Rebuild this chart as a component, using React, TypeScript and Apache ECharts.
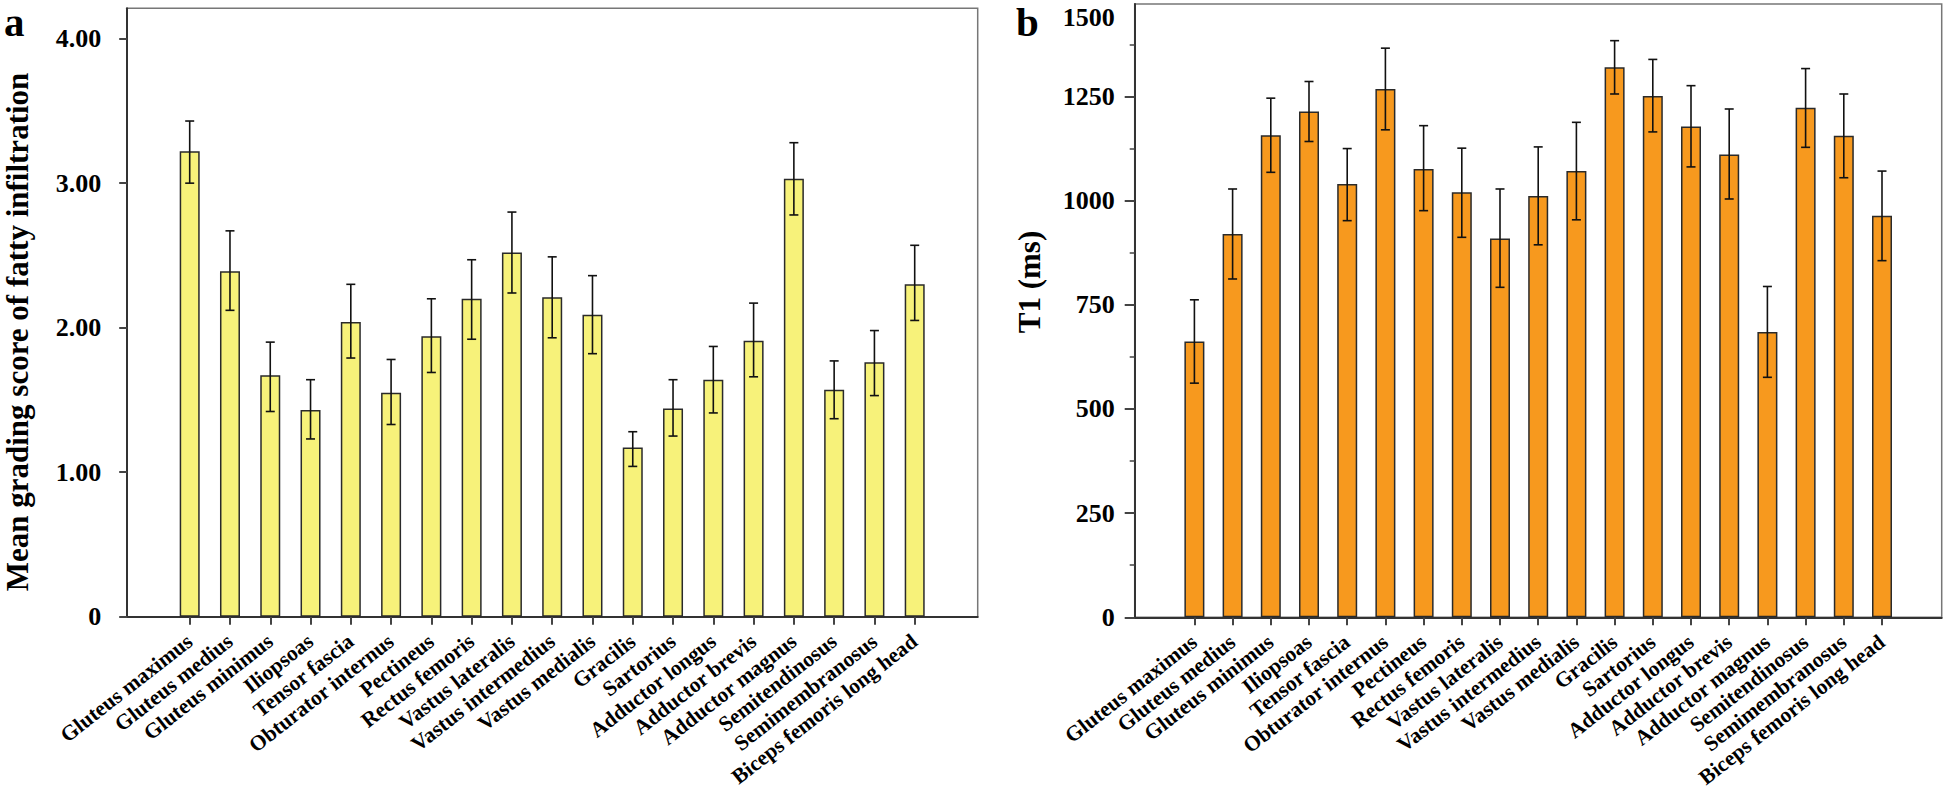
import React, { useEffect, useRef } from "react";
import * as echarts from "echarts";

const MUSCLES = [
  "Gluteus maximus", "Gluteus medius", "Gluteus minimus", "Iliopsoas", "Tensor fascia",
  "Obturator internus", "Pectineus", "Rectus femoris", "Vastus lateralis", "Vastus intermedius",
  "Vastus medialis", "Gracilis", "Sartorius", "Adductor longus", "Adductor brevis",
  "Adductor magnus", "Semitendinosus", "Semimembranosus", "Biceps femoris long head",
];

const FAT_MEAN = [3.22, 2.39, 1.67, 1.43, 2.04, 1.55, 1.94, 2.2, 2.52, 2.21, 2.09, 1.17, 1.44, 1.64, 1.91, 3.03, 1.57, 1.76, 2.3];
const FAT_HIGH = [3.43, 2.67, 1.9, 1.64, 2.3, 1.78, 2.2, 2.47, 2.8, 2.49, 2.36, 1.28, 1.64, 1.87, 2.17, 3.28, 1.77, 1.98, 2.57];
const FAT_LOW = [3.0, 2.12, 1.42, 1.23, 1.79, 1.33, 1.69, 1.92, 2.24, 1.93, 1.82, 1.04, 1.25, 1.41, 1.66, 2.78, 1.37, 1.53, 2.05];

const T1_MEAN = [662, 920, 1157, 1214, 1040, 1268, 1076, 1020, 909, 1011, 1071, 1320, 1251, 1178, 1111, 685, 1223, 1156, 964];
const T1_HIGH = [762, 1028, 1246, 1286, 1125, 1366, 1180, 1126, 1028, 1129, 1188, 1384, 1339, 1276, 1220, 794, 1317, 1256, 1071];
const T1_LOW = [562, 812, 1068, 1142, 952, 1170, 976, 912, 792, 894, 954, 1256, 1165, 1081, 1004, 576, 1128, 1055, 856];

const FAT_TICKS = [0, 1, 2, 3, 4];
const FAT_TICK_LABELS = ["0", "1.00", "2.00", "3.00", "4.00"];
const FAT_MAX = 4.21;

const T1_TICKS = [0, 250, 500, 750, 1000, 1250];
const T1_TICK_LABELS = ["0", "250", "500", "750", "1000", "1250"];
const T1_MAX = 1472;
const T1_TOP_LABEL = "1500";

const FONT = "'Liberation Serif', 'Times New Roman', serif";
const YELLOW = "#F7F27A";
const ORANGE = "#F7991E";
const DARK = "#2a2a2a";

function errorSeries(xIdx: number, yIdx: number, low: number[], high: number[]) {
  return {
    type: "custom",
    xAxisIndex: xIdx,
    yAxisIndex: yIdx,
    z: 5,
    encode: { x: 0, y: [1, 2] },
    data: low.map((l, i) => [i, l, high[i]]),
    renderItem: (_p: any, api: any) => {
      const x = api.value(0);
      const pLo = api.coord([x, api.value(1)]);
      const pHi = api.coord([x, api.value(2)]);
      const cw = 4.5;
      const style = { stroke: "#111", lineWidth: 1.6 };
      return {
        type: "group",
        children: [
          { type: "line", shape: { x1: pLo[0], y1: pLo[1], x2: pHi[0], y2: pHi[1] }, style },
          { type: "line", shape: { x1: pHi[0] - cw, y1: pHi[1], x2: pHi[0] + cw, y2: pHi[1] }, style },
          { type: "line", shape: { x1: pLo[0] - cw, y1: pLo[1], x2: pLo[0] + cw, y2: pLo[1] }, style },
        ],
      };
    },
  };
}

function frameX(gridIndex: number) {
  return {
    type: "value",
    gridIndex,
    min: 0,
    max: 1,
    position: "bottom",
    axisLine: { show: true, lineStyle: { color: "#333", width: 2 } },
    axisTick: { show: false },
    axisLabel: { show: false },
    splitLine: { show: false },
  };
}

function catX(gridIndex: number) {
  return {
    type: "category",
    gridIndex,
    data: MUSCLES,
    axisLine: { show: false },
    axisTick: { show: true, alignWithLabel: true, length: 8, lineStyle: { color: "#444", width: 2 } },
    axisLabel: {
      interval: 0,
      rotate: 38,
      margin: 22,
      color: "#000",
      fontFamily: FONT,
      fontWeight: "bold",
      fontSize: 21.5,
    },
    splitLine: { show: false },
  };
}

function hiddenY(gridIndex: number, max: number) {
  return { type: "value", gridIndex, min: 0, max, show: false, splitLine: { show: false } };
}

export default function App() {
  const ref = useRef<HTMLDivElement>(null);

  useEffect(() => {
    if (!ref.current) return;
    const chart = echarts.init(ref.current, undefined, { renderer: "svg" });

    const option: any = {
      animation: false,
      backgroundColor: "#fff",
      textStyle: { fontFamily: FONT },
      grid: [
        { left: 127.2, top: 8.3, width: 850.5, height: 608.4, show: true, borderColor: "#777", borderWidth: 1.5 },
        { left: 169.56, top: 8.3, width: 765.28, height: 608.4 },
        { left: 1134.7, top: 4, width: 807, height: 613.3, show: true, borderColor: "#777", borderWidth: 1.5 },
        { left: 1175.3, top: 4, width: 725.8, height: 613.3 },
      ],
      xAxis: [frameX(0), catX(1), frameX(2), catX(3)],
      yAxis: [
        {
          type: "value",
          gridIndex: 0,
          min: 0,
          max: FAT_MAX,
          interval: 1,
          axisLine: { show: true, lineStyle: { color: "#333", width: 2 } },
          axisTick: { show: true, length: 8, customValues: FAT_TICKS, lineStyle: { color: "#444", width: 2 } },
          axisLabel: {
            customValues: FAT_TICKS,
            margin: 26,
            color: "#000",
            fontFamily: FONT,
            fontWeight: "bold",
            fontSize: 26,
            formatter: (v: number) => {
              const i = FAT_TICKS.indexOf(Math.round(v * 100) / 100);
              return i >= 0 ? FAT_TICK_LABELS[i] : "";
            },
          },
          splitLine: { show: false },
        },
        hiddenY(1, FAT_MAX),
        {
          type: "value",
          gridIndex: 2,
          min: 0,
          max: T1_MAX,
          interval: 250,
          axisLine: { show: true, lineStyle: { color: "#333", width: 2 } },
          axisTick: { show: true, length: 10, customValues: T1_TICKS, lineStyle: { color: "#444", width: 2 } },
          minorTick: { show: true, splitNumber: 2, length: 5, lineStyle: { color: "#444", width: 1.5 } },
          axisLabel: {
            customValues: [...T1_TICKS, T1_MAX],
            margin: 20,
            color: "#000",
            fontFamily: FONT,
            fontWeight: "bold",
            fontSize: 26,
            formatter: (v: number) => {
              if (v >= T1_MAX) return "{top|" + T1_TOP_LABEL + "}";
              const i = T1_TICKS.indexOf(v);
              return i >= 0 ? T1_TICK_LABELS[i] : "";
            },
            rich: {
              top: {
                fontFamily: FONT,
                fontWeight: "bold",
                fontSize: 26,
                color: "#000",
                padding: [26, 0, 0, 0],
              },
            },
          },
          splitLine: { show: false },
        },
        hiddenY(3, T1_MAX),
      ],
      series: [
        {
          type: "bar",
          xAxisIndex: 1,
          yAxisIndex: 1,
          data: FAT_MEAN,
          barWidth: 20,
          itemStyle: { color: YELLOW, borderColor: DARK, borderWidth: 1.5 },
        },
        errorSeries(1, 1, FAT_LOW, FAT_HIGH),
        {
          type: "bar",
          xAxisIndex: 3,
          yAxisIndex: 3,
          data: T1_MEAN,
          barWidth: 20,
          itemStyle: { color: ORANGE, borderColor: DARK, borderWidth: 1.5 },
        },
        errorSeries(3, 3, T1_LOW, T1_HIGH),
      ],
      graphic: [
        {
          type: "text",
          x: 4,
          y: 22,
          style: { text: "a", font: "bold 41px " + FONT, lineHeight: 32, fill: "#000", textAlign: "left", textVerticalAlign: "middle" },
        },
        {
          type: "text",
          x: 1016,
          y: 22,
          style: { text: "b", font: "bold 41px " + FONT, lineHeight: 32, fill: "#000", textAlign: "left", textVerticalAlign: "middle" },
        },
        {
          type: "text",
          x: 17,
          y: 332,
          rotation: Math.PI / 2,
          style: {
            text: "Mean grading score of fatty infiltration",
            font: "bold 31px " + FONT,
            lineHeight: 28,
            fill: "#000",
            textAlign: "center",
            textVerticalAlign: "middle",
          },
        },
        {
          type: "text",
          x: 1029,
          y: 282,
          rotation: Math.PI / 2,
          style: {
            text: "T1 (ms)",
            font: "bold 31px " + FONT,
            lineHeight: 28,
            fill: "#000",
            textAlign: "center",
            textVerticalAlign: "middle",
          },
        },
      ],
    };

    chart.setOption(option);
    return () => chart.dispose();
  }, []);

  return (
    <div
      ref={ref}
      style={{ position: "absolute", left: 0, top: 0, width: 1944, height: 793, background: "#fff" }}
    />
  );
}
